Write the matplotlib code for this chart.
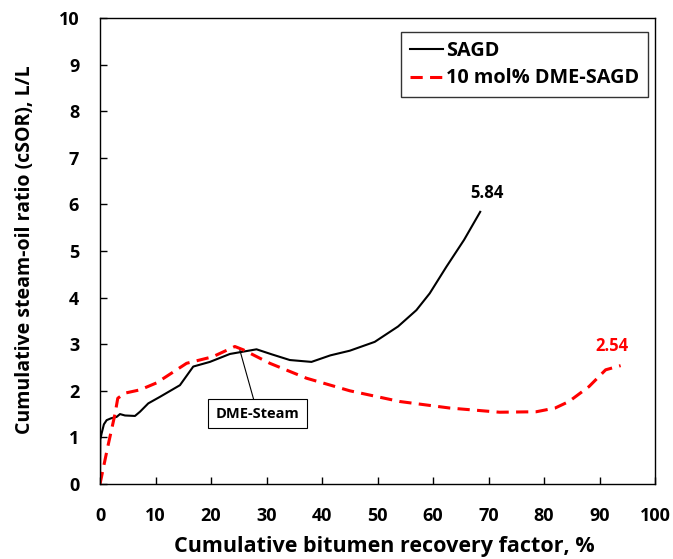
import matplotlib
matplotlib.use("Agg")
import matplotlib.pyplot as plt

# ── Data ──────────────────────────────────────────────────────────────────────
sagd_x = [0, 0.05, 0.3, 0.7, 1.2, 2.0, 3.0, 3.6, 4.5, 6.3, 7.2, 8.7, 10.8, 14.4, 16.8, 19.8,
          23.4, 28.2, 31.0, 34.2, 38.1, 41.5, 45, 49.5, 53.7, 57, 59.4, 62.4, 65.6, 68.5]
sagd_y = [0, 0.95, 1.09, 1.28, 1.37, 1.41, 1.44, 1.50, 1.47, 1.46, 1.55, 1.73, 1.87, 2.12, 2.52,
          2.62, 2.79, 2.89, 2.78, 2.66, 2.62, 2.76, 2.86, 3.05, 3.38, 3.73, 4.09, 4.66, 5.24, 5.84]

dme_x = [0, 1.4, 2.7, 3.2, 4.5, 7.2, 10.2, 15.6, 20.3, 24.3, 25.8, 30.6, 37.2, 45,
         54, 63, 72, 78.6, 82, 84.5, 88.1, 91.1, 93.8]
dme_y = [0, 0.80, 1.50, 1.84, 1.95, 2.02, 2.17, 2.59, 2.73, 2.95, 2.88, 2.59, 2.27, 2.00,
         1.77, 1.63, 1.54, 1.55, 1.63, 1.77, 2.09, 2.45, 2.54]

SAGD_END, DME_END = "5.84", "2.54"
FONT = "Open Sans"

fig = plt.figure(figsize=(6.73, 5.59), dpi=100)
ax = fig.add_axes([0.1486, 0.1342, 0.8247, 0.8336])

ax.plot(sagd_x, sagd_y, color="black", lw=1.5, label="SAGD")
ax.plot(dme_x, dme_y, color="#ff0000", lw=2.2, ls=(0, (4, 2.4)), label="10 mol% DME-SAGD")

ax.set_xlim(0, 100)
ax.set_ylim(0, 10)
ax.set_xticks(range(0, 101, 10))
ax.set_yticks(range(0, 11))
ax.tick_params(direction="in", length=5, width=1, labelsize=13)
ax.tick_params(axis="x", pad=16.5)
ax.tick_params(axis="y", pad=15)
for lab in ax.get_xticklabels() + ax.get_yticklabels():
    lab.set_fontfamily(FONT)
    lab.set_fontweight("bold")
for s in ax.spines.values():
    s.set_linewidth(1.0)

ax.set_xlabel("Cumulative bitumen recovery factor, %", fontsize=15.5, fontweight="bold",
              family=FONT, labelpad=8, x=0.513)
ax.set_ylabel("Cumulative steam-oil ratio (cSOR), L/L", fontsize=14, fontweight="bold",
              family=FONT, labelpad=17, y=0.502)

ax.text(69.8, 6.24, SAGD_END, ha="center", va="center", fontsize=12, fontweight="bold",
        family=FONT, color="black")
ax.text(92.3, 2.97, DME_END, ha="center", va="center", fontsize=12, fontweight="bold",
        family=FONT, color="#ff0000")

ax.annotate("DME-Steam", xy=(25.2, 2.87), xytext=(28.4, 1.51), ha="center", va="center",
            fontsize=10.5, fontweight="bold", family=FONT,
            bbox=dict(boxstyle="square,pad=0.5", fc="white", ec="black", lw=0.8),
            arrowprops=dict(arrowstyle="-", color="black", lw=0.8, shrinkA=0, shrinkB=0))

leg = ax.legend(loc="upper right", bbox_to_anchor=(0.988, 0.97), frameon=True, fancybox=False,
                edgecolor="black", handlelength=1.7, handletextpad=0.15, borderpad=0.45,
                labelspacing=0.38, borderaxespad=0,
                prop=dict(family=FONT, weight="bold", size=14.3))
leg.get_frame().set_linewidth(1.0)

fig.savefig("out.png", dpi=100)
